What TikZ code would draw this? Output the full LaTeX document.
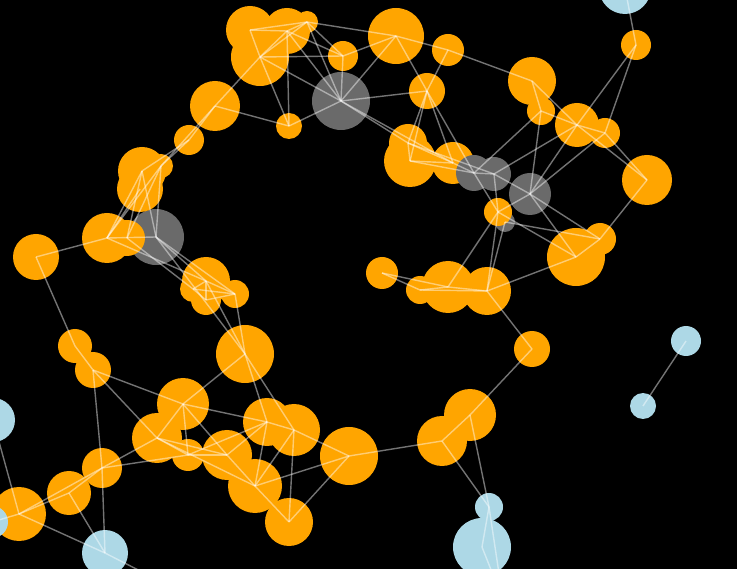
\documentclass[tikz,border=0pt]{standalone}
\definecolor{orange0}{HTML}{FFA500}
\definecolor{gray0}{HTML}{6A6A6A}
\definecolor{blue0}{HTML}{ADD8E6}
\tikzset{
  nd/.style={circle, inner sep=0pt, draw=none},
  org/.style={nd, fill=orange0},
  gry/.style={nd, fill=gray0},
  blu/.style={nd, fill=blue0},
  edge/.style={draw=white, draw opacity=0.45, line width=1.4pt}
}
\begin{document}
\begin{tikzpicture}[x=1pt,y=-1pt]
\useasboundingbox (0,0) rectangle (737,569);
\fill[black] (0,0) rectangle (737,569);
\clip (0,0) rectangle (737,569);
% gray nodes drawn below orange
\foreach \n/\x/\y/\r in {G5/156/237/28, G6/505/222/10}
  \node[gry, minimum size={2*\r*1pt}] (\n) at (\x,\y) {};
% orange nodes
\foreach \n/\x/\y/\r in {
  A1/250/30/24, A2/287/31/23, A3/307/22/11, A4/260/57/29, A5/343/56/15,
  A6/396/36/28, A7/448/50/16, A8/289/126/13, A9/215/106/25, A10/189/140/15,
  A11/427/91/18, A12/408/143/19, A13/410/161/26, A14/453/163/21, A15/498/212/14,
  A16/532/81/24, A17/541/111/14, A18/577/125/22, A19/605/133/15, A20/647/180/25,
  A21/636/45/15, A22/576/257/29, A23/600/239/16, A24/382/273/16, A25/420/290/14,
  A26/448/287/26, A27/487/291/24, A28/532/349/18, A29/470/415/26, A30/442/441/25,
  A31/36/257/23, A32/107/238/25, A33/127/238/18, A34/142/171/24, A35/140/189/23,
  A36/161/166/12, A37/206/281/24, A38/193/289/13, A39/206/300/15, A40/235/294/14,
  A41/245/354/29, A42/75/346/17, A43/93/370/18, A44/183/404/26, A45/157/438/25,
  A46/188/455/16, A47/227/455/25, A48/267/422/24, A49/294/430/26, A50/255/486/27,
  A51/289/522/24, A52/349/456/29, A53/102/468/20, A54/69/493/22, A55/19/514/27}
  \node[org, minimum size={2*\r*1pt}] (\n) at (\x,\y) {};
% gray nodes on top
\foreach \n/\x/\y/\r in {G1/341/101/29, G2/474/173/18, G3/494/174/17, G4/530/194/21}
  \node[gry, minimum size={2*\r*1pt}] (\n) at (\x,\y) {};
% light blue nodes
\foreach \n/\x/\y/\r in {B1/625/-12/26, B3/482/547/29, B2/489/507/14, B4/686/341/15,
  B5/643/406/13, B6/-7/420/22, B7/-8/522/16, B8/105/553/23}
  \node[blu, minimum size={2*\r*1pt}] (\n) at (\x,\y) {};
\coordinate (offB) at (503,600);
\coordinate (offC) at (150,576);
% edges
\foreach \a/\b in {
  A1/A2, A1/A3, A1/A4, A2/A3, A2/A4, A3/A4, A2/A8, A4/A5, A2/A5, A3/A5,
  A3/A6, A6/A7, A7/A16, A4/A9, A4/G1, A4/A8, A9/A8, A8/G1, A2/G1, A3/G1,
  A5/G1, A6/G1, A5/A6, A6/A11, A7/A11, G1/A11, G1/A12, G1/A14, A11/A12, A11/A13,
  A11/A14, A11/G2, A12/A13, A12/A14, A13/A14, A13/G2, A12/G3, A14/G2, G2/G3, G3/G4,
  G2/A15, G3/A15, G4/A15, A16/A17, A16/A18, A17/A18, A18/A19, A19/A20, A18/A20, A21/B1,
  A21/A18, A21/A19, A17/G2, A17/G4, A18/G3, A18/G4, A19/G4, A20/A23, G4/A22, G4/A23,
  A15/A22, G6/A23, A23/A22, A15/A26, A15/A27, G6/A27, A24/A25, A24/A26, A25/A26, A25/A27,
  A26/A27, A27/A22, A27/A28, A28/A29, A29/A30, A30/A52, A30/B2, A29/B2, B2/B3, B4/B5,
  A9/A10, A34/A10, A36/A10, A36/A9, A31/A32, A31/A42, A32/A34, A33/A34, A32/A36, A33/A36,
  G5/A34, G5/A36, A32/A35, A32/G5, A32/A37, A33/A38, G5/A37, G5/A40, G5/A41, A37/A38,
  A37/A39, A37/A40, A38/A40, A39/A40, A38/A39, A37/A41, A40/A41, A41/A44, A41/A48, A41/A49,
  A42/A43, A43/A44, A43/A45, A43/A53, A44/A45, A44/A46, A44/A48, A44/A47, A45/A46, A45/A47,
  A45/A50, A45/A53, A46/A47, A46/A48, A47/A48, A47/A50, A48/A49, A48/A50, A49/A50, A49/A51,
  A49/A52, A50/A51, A50/A52, A51/A52, A53/A46, A53/B8, A54/B8, A55/B8, A55/A53, A54/A53,
  A55/A54, B6/A55, B7/A55}
  \draw[edge] (\a.center) -- (\b.center);
\draw[edge] (B2.center) -- (offB);
\draw[edge] (B3.center) -- (offB);
\draw[edge] (B8.center) -- (offC);
\end{tikzpicture}
\end{document}
